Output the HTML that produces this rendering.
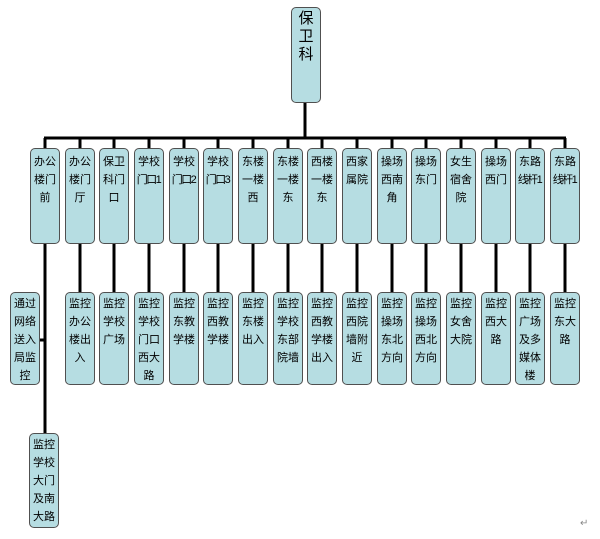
<!DOCTYPE html>
<html><head><meta charset="utf-8"><style>
body{margin:0;width:600px;height:534px;background:#fff;position:relative;overflow:hidden;font-family:"Liberation Sans","Noto Sans CJK SC",sans-serif;}
.b{position:absolute;width:28px;background:#b6dde2;border:1px solid #505050;border-radius:5px;text-align:center;font-size:11px;line-height:18px;color:#000;box-sizing:content-box;white-space:nowrap;overflow:hidden;}
.n{letter-spacing:-1.5px;margin-left:-1px}
.t{top:148px;padding-top:4px;height:90px}
.m{top:292px;padding-top:2px;height:89px}
#s{position:absolute;left:0;top:0;width:600px;height:534px}
</style></head><body>
<div id="s"></div>
<div class="b" style="left:291px;top:7px;height:92px;font-size:15px;line-height:18px;padding-top:2px">保<br>卫<br>科</div>
<div id="c"></div>
<script>
var tl=[["办公","楼门","前"],["办公","楼门","厅"],["保卫","科门","口"],["学校","<span class=n>门口1</span>"],["学校","<span class=n>门口2</span>"],["学校","<span class=n>门口3</span>"],["东楼","一楼","西"],["东楼","一楼","东"],["西楼","一楼","东"],["西家","属院"],["操场","西南","角"],["操场","东门"],["女生","宿舍","院"],["操场","西门"],["东路","<span class=n>线杆1</span>"],["东路","<span class=n>线杆1</span>"]];
var bl=[null,["监控","办公","楼出","入"],["监控","学校","广场"],["监控","学校","门口","西大","路"],["监控","东教","学楼"],["监控","西教","学楼"],["监控","东楼","出入"],["监控","学校","东部","院墙"],["监控","西教","学楼","出入"],["监控","西院","墙附","近"],["监控","操场","东北","方向"],["监控","操场","西北","方向"],["监控","女舍","大院"],["监控","西大","路"],["监控","广场","及多","媒体","楼"],["监控","东大","路"]];
var h="",d='<line x1="305" y1="101" x2="305" y2="138"/><line x1="44" y1="138" x2="566" y2="138"/>';
for(var i=0;i<16;i++){var x=Math.round(30+34.67*i);var cx=x+15;
h+='<div class="b t" style="left:'+x+'px">'+tl[i].join("<br>")+'</div>';
d+='<line x1="'+cx+'" y1="138" x2="'+cx+'" y2="149"/>';
if(bl[i]){h+='<div class="b m" style="left:'+x+'px">'+bl[i].join("<br>")+'</div>';d+='<line x1="'+cx+'" y1="243" x2="'+cx+'" y2="293"/>';}}
d+='<line x1="45" y1="243" x2="45" y2="434"/><line x1="40" y1="340" x2="45" y2="340"/>';
h+='<div class="b m" style="left:10px">通过<br>网络<br>送入<br>局监<br>控</div>';
h+='<div class="b" style="left:29px;top:433px;height:91px;padding-top:2px">监控<br>学校<br>大门<br>及南<br>大路</div>';
h+='<div style="position:absolute;left:580px;top:518px;font-size:10px;color:#888">↵</div>';
document.getElementById("c").innerHTML=h;
document.getElementById("s").innerHTML='<svg width="600" height="534" xmlns="http://www.w3.org/2000/svg"><g stroke="#000" stroke-width="3" fill="none">'+d+'</g></svg>';
</script>
</body></html>
